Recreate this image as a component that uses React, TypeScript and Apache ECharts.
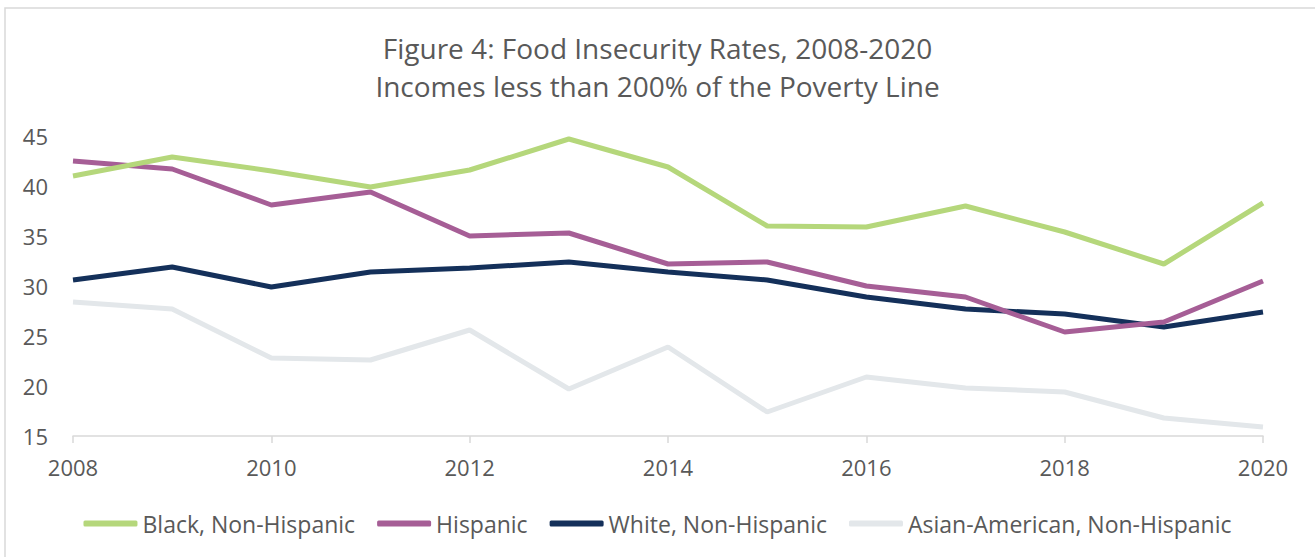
import React, { useEffect, useRef } from "react";
import * as echarts from "echarts";

const years = ["2008","2009","2010","2011","2012","2013","2014","2015","2016","2017","2018","2019","2020"];
const black = [41.0, 42.9, 41.5, 39.9, 41.6, 44.7, 41.9, 36.0, 35.9, 38.0, 35.4, 32.2, 38.3];
const hispanic = [42.5, 41.7, 38.1, 39.4, 35.0, 35.3, 32.2, 32.4, 30.0, 28.9, 25.4, 26.4, 30.5];
const white = [30.6, 31.9, 29.9, 31.4, 31.8, 32.4, 31.4, 30.6, 28.9, 27.7, 27.2, 25.9, 27.4];
const asian = [28.4, 27.7, 22.8, 22.6, 25.6, 19.7, 23.9, 17.4, 20.9, 19.8, 19.4, 16.8, 15.9];
const seriesNames = ["Black, Non-Hispanic", "Hispanic", "White, Non-Hispanic", "Asian-American, Non-Hispanic"];
const colors = ["#b5d77b", "#a65e96", "#14305a", "#e3e7ea"];

export default function App() {
  const ref = useRef<HTMLDivElement>(null);
  useEffect(() => {
    const chart = echarts.init(ref.current!, null, { renderer: "svg" });
    const font = "'Open Sans', sans-serif";
    const data = [black, hispanic, white, asian];
    chart.setOption({
      animation: false,
      backgroundColor: "#fff",
      color: colors,
      title: {
        text: "Figure 4: Food Insecurity Rates, 2008-2020\nIncomes less than 200% of the Poverty Line",
        left: "center",
        top: 24,
        textStyle: { fontFamily: font, fontSize: 28, fontWeight: "normal", color: "#595959", lineHeight: 38 },
      },
      graphic: [
        {
          type: "rect",
          shape: { x: 5, y: 8, width: 1330, height: 580 },
          style: { fill: "none", stroke: "#d9d9d9", lineWidth: 1.5 },
          silent: true,
        },
      ],
      legend: {
        bottom: 17,
        left: "center",
        itemWidth: 54,
        itemHeight: 6,
        itemGap: 22,
        icon: "roundRect",
        data: seriesNames,
        textStyle: { fontFamily: font, fontSize: 23, color: "#595959" },
      },
      grid: { left: 73, right: 52, top: 136, bottom: 121, containLabel: false },
      xAxis: {
        type: "category",
        data: years,
        boundaryGap: false,
        axisLine: { lineStyle: { color: "#d9d9d9", width: 1.5 } },
        axisTick: { show: true, interval: 1, length: 7, lineStyle: { color: "#d9d9d9", width: 1.5 } },
        axisLabel: { interval: 1, margin: 20, fontFamily: font, fontSize: 22, color: "#595959" },
        splitLine: { show: false },
      },
      yAxis: {
        type: "value",
        min: 15,
        max: 45,
        interval: 5,
        axisLine: { show: false },
        axisTick: { show: false },
        splitLine: { show: false },
        axisLabel: { margin: 25, fontFamily: font, fontSize: 22, color: "#595959" },
      },
      series: seriesNames.map((name, i) => ({
        name,
        type: "line",
        data: data[i],
        symbol: "none",
        lineStyle: { width: 5, color: colors[i] },
        z: 10 - i,
      })),
    });
    return () => chart.dispose();
  }, []);
  return <div ref={ref} style={{ position: "fixed", left: 0, top: 0, width: 1315, height: 557 }} />;
}
